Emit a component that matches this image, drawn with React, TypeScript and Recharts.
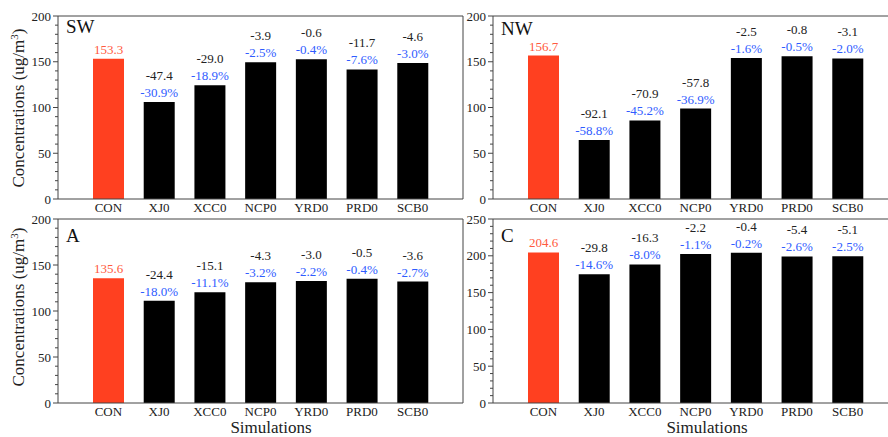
import React from 'react'
import { BarChart, Bar, XAxis, YAxis, Cell, LabelList } from 'recharts'

const SIMS = ['CON', 'XJ0', 'XCC0', 'NCP0', 'YRD0', 'PRD0', 'SCB0']

// concentrations (CON + difference)
const SW_VALUES = [153.3, 105.9, 124.3, 149.4, 152.7, 141.6, 148.7]
const SW_DIFF = [null, -47.4, -29.0, -3.9, -0.6, -11.7, -4.6]
const SW_PCT = [null, -30.9, -18.9, -2.5, -0.4, -7.6, -3.0]

const NW_VALUES = [156.7, 64.6, 85.8, 98.9, 154.2, 155.9, 153.6]
const NW_DIFF = [null, -92.1, -70.9, -57.8, -2.5, -0.8, -3.1]
const NW_PCT = [null, -58.8, -45.2, -36.9, -1.6, -0.5, -2.0]

const A_VALUES = [135.6, 111.2, 120.5, 131.3, 132.6, 135.1, 132.0]
const A_DIFF = [null, -24.4, -15.1, -4.3, -3.0, -0.5, -3.6]
const A_PCT = [null, -18.0, -11.1, -3.2, -2.2, -0.4, -2.7]

const C_VALUES = [204.6, 174.8, 188.3, 202.4, 204.2, 199.2, 199.5]
const C_DIFF = [null, -29.8, -16.3, -2.2, -0.4, -5.4, -5.1]
const C_PCT = [null, -14.6, -8.0, -1.1, -0.2, -2.6, -2.5]

const TICKS_200 = [0, 10, 20, 30, 40, 50, 60, 70, 80, 90, 100, 110, 120, 130, 140, 150, 160, 170, 180, 190, 200]
const TICKS_250 = [0, 10, 20, 30, 40, 50, 60, 70, 80, 90, 100, 110, 120, 130, 140, 150, 160, 170, 180, 190, 200, 210, 220, 230, 240, 250]

const FONT = 'Liberation Serif, DejaVu Serif, serif'
const AXIS = '#444'
const TEXT = '#222'
const RED = '#ff4020'
const RED_TEXT = '#ff5a40'
const BLUE = '#2f5cff'

const PAD_L = 45
const PAD_T = 17
const PAD_R = 20
const PAD_B = 22

const textStyle = { fontFamily: FONT }

function LeftTick({ x, y, payload }: any) {
  const major = payload.value % 50 === 0
  return (
    <g>
      <line x1={x} x2={x - (major ? 5 : 3)} y1={y} y2={y} stroke={AXIS} />
      {major && (
        <text x={x - 7} y={y} dy="0.35em" textAnchor="end" fontSize={13} fill={TEXT} style={textStyle}>
          {payload.value}
        </text>
      )}
    </g>
  )
}

function RightTick({ x, y, payload }: any) {
  const major = payload.value % 50 === 0
  return <line x1={x} x2={x - (major ? 5 : 3)} y1={y} y2={y} stroke={AXIS} />
}

function BottomTick({ x, y, payload }: any) {
  return (
    <text x={x} y={y} dy="0.71em" textAnchor="middle" fontSize={13} fill={TEXT} style={textStyle}>
      {payload.value}
    </text>
  )
}

type PanelProps = {
  label: string
  values: number[]
  diffs: (number | null)[]
  pcts: (number | null)[]
  ticks: number[]
  yMax: number
  plotX: number
  plotY: number
  plotW: number
  plotH: number
  labelY: number
}

function Panel({ label, values, diffs, pcts, ticks, yMax, plotX, plotY, plotW, plotH, labelY }: PanelProps) {
  const data = SIMS.map((name, i) => ({ name, value: values[i] }))

  const renderLabel = (props: any) => {
    const { x, y, width, index } = props
    const cx = x + width / 2
    if (index === 0) {
      return (
        <text x={cx} y={y - 5} textAnchor="middle" fontSize={13} fill={RED_TEXT} style={textStyle}>
          {values[0].toFixed(1)}
        </text>
      )
    }
    return (
      <g>
        <text x={cx} y={y - 22} textAnchor="middle" fontSize={13} fill={TEXT} style={textStyle}>
          {(diffs[index] as number).toFixed(1)}
        </text>
        <text x={cx} y={y - 5} textAnchor="middle" fontSize={13} fill={BLUE} style={textStyle}>
          {(pcts[index] as number).toFixed(1)}%
        </text>
      </g>
    )
  }

  return (
    <div style={{ position: 'absolute', left: plotX - PAD_L, top: plotY - PAD_T }}>
      <BarChart
        width={plotW + PAD_L + PAD_R}
        height={plotH + PAD_T + PAD_B}
        data={data}
        margin={{ top: PAD_T - 1, right: PAD_R - 1, left: 0, bottom: 0 }}
      >
        <XAxis
          dataKey="name"
          height={PAD_B}
          padding={{ left: 25, right: 25 }}
          axisLine={{ stroke: AXIS }}
          tickLine={false}
          tickSize={0}
          tickMargin={4}
          interval={0}
          tick={<BottomTick />}
        />
        <XAxis
          xAxisId="top"
          dataKey="name"
          orientation="top"
          mirror
          height={1}
          padding={{ left: 25, right: 25 }}
          axisLine={{ stroke: AXIS }}
          tickLine={{ stroke: AXIS }}
          tickSize={3}
          interval={0}
          tick={false}
        />
        <YAxis
          type="number"
          domain={[0, yMax]}
          ticks={ticks}
          interval={0}
          width={PAD_L}
          axisLine={{ stroke: AXIS }}
          tickLine={false}
          tickSize={0}
          tickMargin={0}
          tick={<LeftTick />}
        />
        <YAxis
          yAxisId="right"
          orientation="right"
          type="number"
          domain={[0, yMax]}
          ticks={ticks}
          interval={0}
          width={1}
          axisLine={{ stroke: AXIS }}
          tickLine={false}
          tickSize={0}
          tickMargin={0}
          tick={<RightTick />}
        />
        <Bar dataKey="value" barSize={31} isAnimationActive={false}>
          {data.map((d, i) => (
            <Cell key={d.name} fill={i === 0 ? RED : '#000'} />
          ))}
          <LabelList dataKey="value" content={renderLabel} />
        </Bar>
      </BarChart>
      <svg
        width={120}
        height={40}
        style={{ position: 'absolute', left: 0, top: 0, overflow: 'visible', pointerEvents: 'none' }}
      >
        <text x={PAD_L + 8} y={labelY} fontSize={19} fill="#111" style={textStyle}>
          {label}
        </text>
      </svg>
    </div>
  )
}

function YTitle({ cy }: { cy: number }) {
  return (
    <text
      x={18}
      y={cy}
      transform={`rotate(-90, 18, ${cy})`}
      textAnchor="middle"
      dy="0.35em"
      fontSize={17}
      fill={TEXT}
      style={textStyle}
    >
      Concentrations (ug/m<tspan dy={-6} fontSize={11}>3</tspan>
      <tspan dy={6}>)</tspan>
    </text>
  )
}

export default function App() {
  return (
    <div
      style={{
        position: 'absolute',
        left: 0,
        top: 0,
        width: 888,
        height: 437,
        overflow: 'hidden',
        background: '#fff',
        fontFamily: FONT,
      }}
    >
      <Panel label="SW" values={SW_VALUES} diffs={SW_DIFF} pcts={SW_PCT} ticks={TICKS_200} yMax={200}
        plotX={58} plotY={17} plotW={405} plotH={182} labelY={33} />
      <Panel label="NW" values={NW_VALUES} diffs={NW_DIFF} pcts={NW_PCT} ticks={TICKS_200} yMax={200}
        plotX={493} plotY={17} plotW={405} plotH={182} labelY={35} />
      <Panel label="A" values={A_VALUES} diffs={A_DIFF} pcts={A_PCT} ticks={TICKS_200} yMax={200}
        plotX={58} plotY={220} plotW={405} plotH={183} labelY={39} />
      <Panel label="C" values={C_VALUES} diffs={C_DIFF} pcts={C_PCT} ticks={TICKS_250} yMax={250}
        plotX={493} plotY={220} plotW={405} plotH={183} labelY={39} />
      <svg width={888} height={437} style={{ position: 'absolute', left: 0, top: 0, pointerEvents: 'none' }}>
        <YTitle cy={108} />
        <YTitle cy={307} />
        <text x={271} y={433} textAnchor="middle" fontSize={17} fill={TEXT} style={textStyle}>Simulations</text>
        <text x={707} y={433} textAnchor="middle" fontSize={17} fill={TEXT} style={textStyle}>Simulations</text>
      </svg>
    </div>
  )
}
